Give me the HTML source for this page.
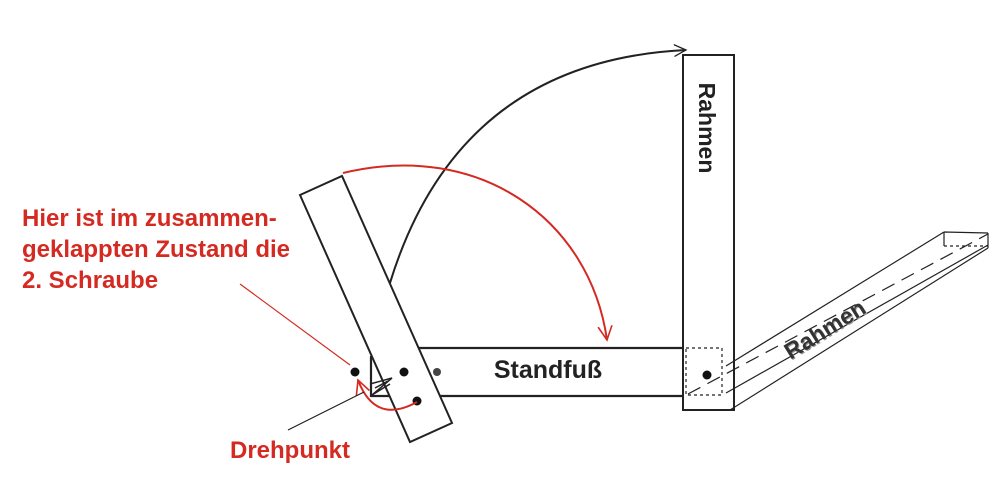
<!DOCTYPE html>
<html><head><meta charset="utf-8"><style>
html,body{margin:0;padding:0;background:#fff;width:998px;height:478px;overflow:hidden}
svg{display:block}
</style></head><body>
<svg width="998" height="478" viewBox="0 0 998 478" xmlns="http://www.w3.org/2000/svg" font-family="Liberation Sans, Arial, sans-serif">
<defs>
<marker id="ab" markerWidth="14" markerHeight="14" refX="12" refY="7" orient="auto" markerUnits="userSpaceOnUse"><path d="M0,1 L12,7 L0,13" fill="none" stroke="#222" stroke-width="1.3"/></marker>
<marker id="ar" markerWidth="16" markerHeight="16" refX="14" refY="8" orient="auto" markerUnits="userSpaceOnUse"><path d="M0,1 L14,8 L0,15" fill="none" stroke="#d42a22" stroke-width="1.6"/></marker>
</defs>
<!-- black big arc -->
<path d="M380,320 Q 440,62 686,50" fill="none" stroke="#222" stroke-width="2" marker-end="url(#ab)"/>
<!-- Standfuss -->
<path d="M400,348 L683,348 M371,396 L683,396 M371,356 L371,397" stroke="#222" stroke-width="2.2" fill="none"/>
<text x="548" y="378" font-size="25" font-weight="bold" text-anchor="middle" fill="#222">Standfuß</text>
<!-- tilted bar (white fill covers lines) -->
<polygon points="300,195 342,176 452,423 410,442" fill="#fff" stroke="#222" stroke-width="2"/>
<!-- small triangle -->
<path d="M370,384 L392,378 L372,395 L390,384 M375,388 L388,381" stroke="#222" stroke-width="1.5" fill="none"/>
<!-- red arc -->
<path d="M343,173 C 480,140 590,220 607,340" fill="none" stroke="#d42a22" stroke-width="2" marker-end="url(#ar)"/>
<!-- vertical Rahmen -->
<rect x="683" y="55" width="51" height="355" fill="none" stroke="#222" stroke-width="2"/>
<text transform="translate(699,128) rotate(90)" font-size="23" font-weight="bold" text-anchor="middle" fill="#222">Rahmen</text>
<rect x="686" y="348" width="36" height="47" fill="none" stroke="#222" stroke-width="1.2" stroke-dasharray="3,3"/>
<!-- slanted Rahmen -->
<path d="M726,366 L944,232 M726,393 L988,245 M730,410 L988,248 M944,232 L988,233 M944,232 L944,246 M988,233 L988,248" stroke="#222" stroke-width="1.2" fill="none"/>
<path d="M944,246 L988,246" stroke="#222" stroke-width="1.2" stroke-dasharray="3,3"/>
<path d="M688,394 L988,234" stroke="#222" stroke-width="1.2" stroke-dasharray="14,8"/>
<text transform="translate(830,337) rotate(-32)" font-size="23" font-weight="bold" text-anchor="middle" fill="#999">Rahmen</text>
<text transform="translate(829,336) rotate(-32)" font-size="23" font-weight="bold" text-anchor="middle" fill="#333">Rahmen</text>
<!-- dots -->
<circle cx="355" cy="372" r="4.5" fill="#111"/>
<circle cx="404" cy="372" r="4.5" fill="#111"/>
<circle cx="437" cy="372" r="4" fill="#444"/>
<circle cx="417" cy="401" r="4.5" fill="#111"/>
<circle cx="707" cy="375" r="4.5" fill="#111"/>
<!-- red rotation arrow -->
<path d="M417,402 Q 375,425 358,380" fill="none" stroke="#d42a22" stroke-width="2" marker-end="url(#ar)"/>
<!-- pointer lines -->
<path d="M240,284 L350,365" stroke="#d42a22" stroke-width="1.2"/>
<path d="M288,430 L364,392" stroke="#222" stroke-width="1.2"/>
<!-- red text -->
<g fill="#d42a22" font-size="24" font-weight="bold">
<text x="22" y="226">Hier ist im zusammen-</text>
<text x="22" y="257">geklappten Zustand die</text>
<text x="22" y="288">2. Schraube</text>
<text x="230" y="458">Drehpunkt</text>
</g>
</svg>
</body></html>
